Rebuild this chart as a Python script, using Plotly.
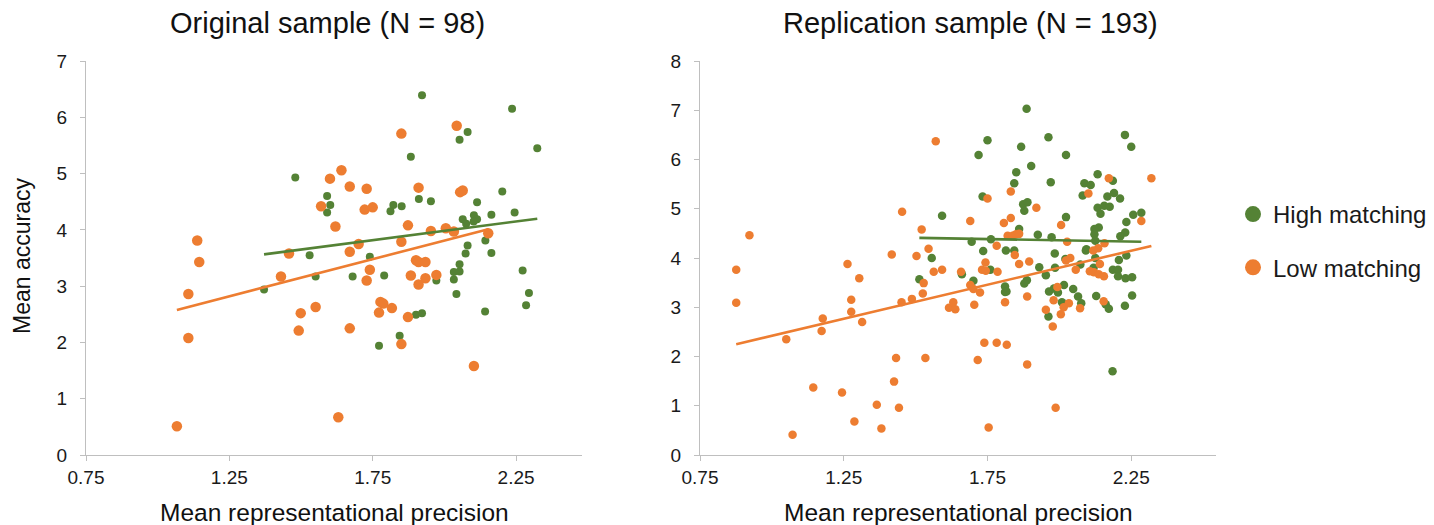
import numpy as np
import plotly.graph_objects as go

# ---------------- data ----------------
orig_high_x = [1.922, 2.236, 2.081, 2.053, 2.324, 1.883, 1.480, 1.591, 1.602, 1.591, 1.822, 1.812,
               1.851, 1.911, 1.953, 2.202, 2.114, 2.245, 2.164, 2.103, 2.064, 2.076, 2.114, 2.102,
               2.143, 2.081, 2.074, 2.164, 1.530, 1.740, 1.551, 1.680, 1.790, 2.053, 2.033, 2.053,
               2.033, 1.972, 2.273, 1.371, 2.042, 2.295, 2.285, 2.142, 1.901, 1.922, 1.844, 1.772]
orig_high_y = [6.39, 6.15, 5.74, 5.60, 5.45, 5.30, 4.93, 4.60, 4.44, 4.31, 4.44, 4.33,
               4.42, 4.55, 4.51, 4.68, 4.49, 4.31, 4.27, 4.26, 4.19, 4.11, 4.19, 4.15,
               3.81, 3.72, 3.58, 3.59, 3.55, 3.52, 3.17, 3.17, 3.19, 3.39, 3.25, 3.26,
               3.12, 3.10, 3.28, 2.94, 2.86, 2.88, 2.66, 2.55, 2.49, 2.52, 2.12, 1.94]

orig_low_x = [2.043, 1.850, 1.641, 1.601, 1.670, 1.729, 1.910, 2.055, 2.064, 1.570, 1.722, 1.750,
              1.620, 1.873, 1.953, 2.005, 2.033, 2.153, 1.138, 1.145, 1.850, 1.701, 1.458, 1.670,
              1.901, 1.910, 1.934, 1.740, 1.430, 1.883, 1.972, 1.934, 1.729, 1.910, 1.107, 1.551,
              1.499, 1.777, 1.787, 1.817, 1.772, 1.873, 1.492, 1.670, 1.107, 1.850, 2.103, 1.630,
              1.067]
orig_low_y = [5.85, 5.71, 5.06, 4.91, 4.77, 4.73, 4.75, 4.67, 4.70, 4.42, 4.36, 4.40,
              4.06, 4.08, 3.98, 4.03, 3.97, 3.94, 3.81, 3.43, 3.79, 3.75, 3.58, 3.61,
              3.46, 3.43, 3.43, 3.29, 3.17, 3.19, 3.20, 3.14, 3.10, 3.03, 2.86, 2.63,
              2.52, 2.72, 2.69, 2.61, 2.53, 2.45, 2.21, 2.25, 2.08, 1.97, 1.58, 0.67,
              0.51]

rep_high_x = [1.886, 2.228, 2.250, 1.750, 1.962, 1.719, 1.867, 2.023, 1.902, 1.850, 1.843, 1.970,
              2.133, 2.186, 2.087, 2.109, 2.081, 2.167, 2.190, 2.211, 1.733, 1.874, 1.889, 1.878,
              2.133, 2.156, 2.175, 2.143, 1.592, 2.023, 2.257, 2.285, 2.233, 1.860, 2.137, 2.122,
              2.122, 2.229, 2.212, 1.925, 1.973, 1.762, 1.695, 2.125, 2.094, 2.092, 1.735, 1.814,
              1.843, 1.984, 1.556, 2.125, 2.021, 2.233, 2.207, 2.073, 1.930, 1.985, 2.119, 1.760,
              2.186, 2.204, 1.661, 1.953, 2.204, 2.230, 2.253, 1.513, 1.701, 1.887, 1.878, 1.811,
              2.016, 1.811, 1.816, 1.964, 1.995, 1.981, 2.048, 2.253, 2.128, 2.065, 2.009, 2.076,
              2.161, 2.172, 2.228, 1.962, 2.185]
rep_high_y = [7.03, 6.50, 6.26, 6.39, 6.45, 6.09, 6.26, 6.09, 5.87, 5.74, 5.52, 5.54,
              5.70, 5.57, 5.52, 5.48, 5.27, 5.25, 5.32, 5.21, 5.25, 5.09, 5.13, 4.96,
              5.02, 5.06, 5.04, 4.90, 4.86, 4.83, 4.88, 4.92, 4.73, 4.59, 4.62, 4.59,
              4.48, 4.52, 4.44, 4.47, 4.42, 4.38, 4.33, 4.35, 4.18, 4.15, 4.14, 4.15,
              4.15, 4.09, 4.00, 4.00, 3.98, 4.05, 3.96, 3.87, 3.81, 3.80, 3.80, 3.76,
              3.76, 3.76, 3.67, 3.65, 3.63, 3.59, 3.61, 3.57, 3.54, 3.55, 3.48, 3.42,
              3.45, 3.31, 3.32, 3.32, 3.30, 3.38, 3.37, 3.24, 3.23, 3.22, 3.10, 3.08,
              3.06, 2.97, 3.03, 2.81, 1.70]

rep_low_x = [1.570, 2.320, 2.172, 2.101, 1.831, 1.750, 1.920, 2.285, 1.453, 1.690, 1.807, 1.831,
             2.006, 0.922, 1.521, 1.820, 1.837, 1.849, 1.860, 2.027, 1.782, 2.157, 2.135, 2.118,
             1.545, 1.417, 1.503, 1.845, 2.038, 2.023, 1.895, 1.860, 1.743, 2.141, 1.263, 0.876,
             1.592, 1.563, 1.731, 1.744, 1.785, 1.658, 2.057, 2.106, 2.120, 2.137, 2.155, 1.304,
             1.528, 1.690, 1.701, 1.724, 1.525, 1.993, 1.487, 1.276, 1.451, 1.811, 1.888, 1.980,
             2.033, 2.154, 0.876, 1.616, 1.631, 1.638, 1.704, 2.015, 1.953, 2.072, 2.005, 1.276,
             1.177, 1.314, 1.173, 1.977, 1.050, 1.739, 1.782, 1.817, 1.432, 1.534, 1.716, 1.888,
             1.425, 1.144, 1.244, 1.365, 1.442, 1.987, 1.287, 1.381, 1.754, 1.072]
rep_low_y = [6.37, 5.62, 5.62, 5.31, 5.35, 5.21, 5.02, 4.75, 4.94, 4.75, 4.71, 4.81,
             4.67, 4.46, 4.58, 4.45, 4.45, 4.48, 4.49, 4.33, 4.25, 4.30, 4.20, 4.15,
             4.19, 4.07, 4.04, 4.06, 4.00, 3.95, 3.93, 3.88, 3.91, 3.88, 3.88, 3.76,
             3.76, 3.72, 3.76, 3.74, 3.72, 3.72, 3.76, 3.73, 3.71, 3.67, 3.63, 3.59,
             3.49, 3.45, 3.37, 3.30, 3.28, 3.41, 3.17, 3.15, 3.10, 3.10, 3.22, 3.14,
             3.08, 3.12, 3.09, 2.99, 3.10, 2.96, 3.05, 3.00, 2.95, 2.98, 2.86, 2.91,
             2.77, 2.70, 2.52, 2.61, 2.35, 2.28, 2.28, 2.24, 1.97, 1.97, 1.93, 1.84,
             1.49, 1.37, 1.27, 1.02, 0.96, 0.96, 0.68, 0.54, 0.56, 0.41]

# linear trendlines: [high, low] slope / intercept per panel
orig_trend_slope = [0.665, 1.322]
orig_trend_intercept = [2.652, 1.166]
rep_trend_slope = [-0.103, 1.382]
rep_trend_intercept = [4.565, 1.039]

panel_titles = ["Original sample (N = 98)", "Replication sample (N = 193)"]
series_names = ["High matching", "Low matching"]
x_axis_title = "Mean representational precision"
y_axis_title = "Mean accuracy"
x_ticks = [0.75, 1.25, 1.75, 2.25]
x_tick_text = ["0.75", "1.25", "1.75", "2.25"]
left_y_ticks = [0, 1, 2, 3, 4, 5, 6, 7]
right_y_ticks = [0, 1, 2, 3, 4, 5, 6, 7, 8]

GREEN = "#548235"
ORANGE = "#ED7D31"
FONT = "Liberation Sans, Arial, sans-serif"
AXIS_COL = "#BFBFBF"
TXT = "#1a1a1a"

fig = go.Figure()

panels = [
    ("x", "y", orig_high_x, orig_high_y, orig_low_x, orig_low_y, 8, 10.5,
     orig_trend_slope, orig_trend_intercept),
    ("x2", "y2", rep_high_x, rep_high_y, rep_low_x, rep_low_y, 8.5, 8.5,
     rep_trend_slope, rep_trend_intercept),
]
for xa, ya, hx, hy, lx, ly, hs, ls, slopes, inters in panels:
    fig.add_trace(go.Scatter(x=hx, y=hy, mode="markers", xaxis=xa, yaxis=ya,
                             marker=dict(color=GREEN, size=hs, line=dict(width=0)),
                             showlegend=False, cliponaxis=False))
    fig.add_trace(go.Scatter(x=lx, y=ly, mode="markers", xaxis=xa, yaxis=ya,
                             marker=dict(color=ORANGE, size=ls, line=dict(width=0)),
                             showlegend=False, cliponaxis=False))
    for xs, col, m, b in [(hx, GREEN, slopes[0], inters[0]), (lx, ORANGE, slopes[1], inters[1])]:
        xx = np.array([min(xs), max(xs)])
        fig.add_trace(go.Scatter(x=xx, y=m * xx + b, mode="lines", xaxis=xa, yaxis=ya,
                                 line=dict(color=col, width=2.6), showlegend=False))

# legend entries
for name, col in zip(series_names, [GREEN, ORANGE]):
    fig.add_trace(go.Scatter(x=[None], y=[None], mode="markers", name=name,
                             legendgroup=name, marker=dict(color=col, size=16)))

W, H = 1434, 525
dom_y = [(H - 455) / H, (H - 61) / H]
dom_x1 = [86 / W, 582 / W]
dom_x2 = [700 / W, 1216 / W]

axis_common = dict(showgrid=False, zeroline=False, showline=True, linecolor=AXIS_COL,
                   linewidth=1.3, ticks="outside", tickcolor=AXIS_COL, ticklen=5,
                   automargin=False,
                   tickfont=dict(size=19, color=TXT, family=FONT))

fig.update_layout(
    template="none",
    width=W, height=H,
    margin=dict(l=0, r=0, t=0, b=0, autoexpand=False),
    paper_bgcolor="white", plot_bgcolor="white",
    font=dict(family=FONT, color=TXT),
    xaxis=dict(domain=dom_x1, range=[0.75, 0.75 + (582 - 86) / 286.7],
               tickvals=x_ticks, ticktext=x_tick_text, anchor="y", **axis_common),
    yaxis=dict(domain=dom_y, range=[0, 7], tickvals=left_y_ticks, anchor="x",
               ticklabelstandoff=9, **axis_common),
    xaxis2=dict(domain=dom_x2, range=[0.75, 0.75 + (1216 - 700) / 287.5],
                tickvals=x_ticks, ticktext=x_tick_text, anchor="y2", **axis_common),
    yaxis2=dict(domain=dom_y, range=[0, 8], tickvals=right_y_ticks, anchor="x2",
                ticklabelstandoff=9, **axis_common),
    legend=dict(x=1233 / W, y=1 - 192 / H, xanchor="left", yanchor="top",
                font=dict(size=24, color=TXT, family=FONT),
                traceorder="grouped", tracegroupgap=19, itemwidth=30,
                bgcolor="rgba(0,0,0,0)", borderwidth=0),
)

for text, cx in [(panel_titles[0], 327), (panel_titles[1], 970)]:
    fig.add_annotation(text=text, x=cx / W, y=1 - 23 / H, xref="paper", yref="paper",
                       showarrow=False, xanchor="center", yanchor="middle",
                       font=dict(size=29, color="#111111", family=FONT))
for cx in [(dom_x1[0] + dom_x1[1]) / 2, (dom_x2[0] + dom_x2[1]) / 2]:
    fig.add_annotation(text=x_axis_title, x=cx, y=1 - 512 / H,
                       xref="paper", yref="paper", showarrow=False,
                       xanchor="center", yanchor="middle",
                       font=dict(size=24.5, color="#111111", family=FONT))
fig.add_annotation(text=y_axis_title, x=22 / W, y=1 - 256 / H, xref="paper", yref="paper",
                   showarrow=False, textangle=-90, xanchor="center", yanchor="middle",
                   font=dict(size=23, color="#111111", family=FONT))

fig.write_html("out.html", config={"displayModeBar": False},
               post_script="document.body.style.margin='0';document.body.style.overflow='hidden';")
